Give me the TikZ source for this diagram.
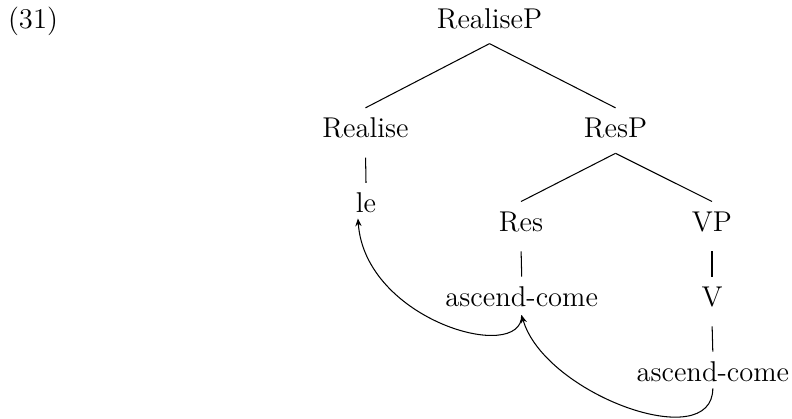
\documentclass[tikz,border=0pt]{standalone}
\usetikzlibrary{arrows.meta}
\begin{document}
\begin{tikzpicture}[x=0.3846pt,y=-0.3846pt,
  font=\fontsize{11pt}{13pt}\selectfont,
  lab/.style={inner sep=0pt, outer sep=0pt, anchor=base, text height=11.6pt, text depth=5.9pt},
  exnum/.style={inner sep=0pt, anchor=base},
  branch/.style={draw, line width=0.4pt},
  unary/.style={draw, line width=0.4pt, shorten <=1.65pt},
  mv/.style={draw, line width=0.4pt, -{Stealth[length=3pt,width=2.4pt]}}]
\useasboundingbox (0,0) rectangle (792,419);
\node[exnum] (ex) at (33,28.3) {(31)};
\node[lab] (RP) at (489.5,28.3) {RealiseP};
\node[lab] (Rl) at (365.5,138) {Realise};
\node[lab] (ResP) at (615.5,138) {ResP};
\node[lab] (le) at (366,213) {le};
\node[lab] (Res) at (521,231.7) {Res};
\node[lab] (VP) at (712,231.7) {VP};
\node[lab] (ac1) at (521.7,306.7) {ascend-come};
\node[lab] (V) at (712,306.7) {V};
\node[lab] (ac2) at (712.8,381.7) {ascend-come};
\draw[branch] (RP.south) -- (Rl.north);
\draw[branch] (RP.south) -- (ResP.north);
\draw[unary] (Rl.south) -- (le.north);
\draw[branch] (ResP.south) -- (Res.north);
\draw[branch] (ResP.south) -- (VP.north);
\draw[unary] (Res.south) -- (ac1.north);
\draw[unary] (VP.south) -- (V.north);
\draw[unary] (V.south) -- (ac2.north);
\draw[mv] ([yshift=2.6pt]ac1.south) .. controls +(0,49) and +(7,102) .. ([xshift=-3.1pt,yshift=3.8pt]le.south);
\draw[mv] ([yshift=3.35pt]ac2.south) .. controls +(0,67) and +(23,79) .. ([yshift=2.6pt]ac1.south);
\end{tikzpicture}
\end{document}
